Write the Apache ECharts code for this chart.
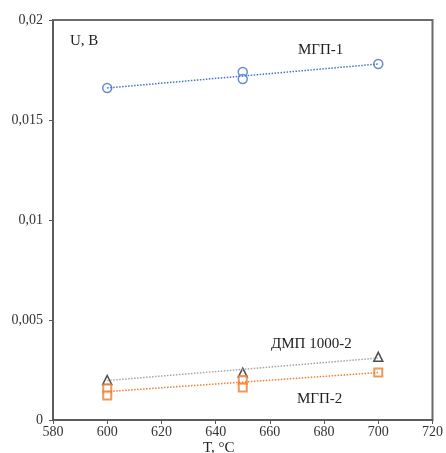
<!DOCTYPE html>
<html>
<head>
<meta charset="utf-8">
<script src="https://cdn.jsdelivr.net/npm/echarts@6/dist/echarts.min.js"></script>
<style>
  html, body { margin: 0; padding: 0; background: #fff; }
  #main { width: 446px; height: 453px; }
</style>
</head>
<body>
<div id="main"></div>
<script>
// данные
var temps = [600, 650, 650, 700];
var mgp1 = [0.0166, 0.0174, 0.01705, 0.0178];
var dmpTemps = [600, 650, 700];
var dmp = [0.0020, 0.00237, 0.00316];
var mgp2Temps = [600, 600, 650, 650, 700];
var mgp2 = [0.00158, 0.00122, 0.0020, 0.00163, 0.00237];
// линии тренда (концы)
var trendX = [600, 700];
var mgp1Trend = [0.0166, 0.0178];
var dmpTrend = [0.00197, 0.0031];
var mgp2Trend = [0.00142, 0.00237];
var yTicks = [0, 0.005, 0.01, 0.015, 0.02];

function pairs(xs, ys) {
  return xs.map(function (x, i) { return [x, ys[i]]; });
}

var serif = 'Liberation Serif';
var myChart = echarts.init(document.getElementById('main'));
var option = {
  animation: false,
  grid: { left: 53, right: 9, top: 20, bottom: 33, show: true, borderColor: '#6b6b6b', borderWidth: 2 },
  xAxis: {
    type: 'value', min: 580, max: 720, interval: 20,
    axisLine: { onZero: false, lineStyle: { color: '#595959', width: 1.5 } },
    axisTick: { show: true, length: 4, lineStyle: { color: '#595959' } },
    axisLabel: { color: '#333', fontFamily: serif, fontSize: 14, margin: 5 },
    splitLine: { show: false }
  },
  yAxis: {
    type: 'value', min: 0, max: 0.02, interval: 0.005,
    axisLine: { show: true, lineStyle: { color: '#595959', width: 1.5 } },
    axisTick: { show: true, length: 4, lineStyle: { color: '#595959' } },
    axisLabel: {
      color: '#333', fontFamily: serif, fontSize: 14, margin: 10,
      formatter: function (v) { return yTicks.indexOf(v) >= 0 ? String(v).replace('.', ',') : ''; }
    },
    splitLine: { show: false }
  },
  series: [
    { type: 'line', data: pairs(trendX, mgp1Trend), symbol: 'none', silent: true,
      lineStyle: { color: '#4472C4', width: 1.5, type: [1.5, 1.5] } },
    { type: 'line', data: pairs(trendX, dmpTrend), symbol: 'none', silent: true,
      lineStyle: { color: '#A5A5A5', width: 1.5, type: [1.5, 1.5] } },
    { type: 'line', data: pairs(trendX, mgp2Trend), symbol: 'none', silent: true,
      lineStyle: { color: '#ED7D31', width: 1.5, type: [1.5, 1.5] } },
    { type: 'scatter', data: pairs(temps, mgp1), symbol: 'circle', symbolSize: 9,
      itemStyle: { color: '#fff', borderColor: '#4472C4', borderWidth: 1.5 } },
    { type: 'scatter', data: pairs(dmpTemps, dmp), symbol: 'triangle', symbolSize: 9,
      itemStyle: { color: '#fff', borderColor: '#222', borderWidth: 1.5 } },
    { type: 'scatter', data: pairs(mgp2Temps, mgp2), symbol: 'rect', symbolSize: 8,
      itemStyle: { color: '#fff', borderColor: '#ED7D31', borderWidth: 2 } }
  ],
  graphic: [
    { type: 'text', left: 70, top: 34, style: { text: 'U, B', font: '15px "Liberation Serif"', fill: '#222' } },
    { type: 'text', left: 298, top: 43, style: { text: 'МГП-1', font: '15px "Liberation Serif"', fill: '#222' } },
    { type: 'text', left: 271, top: 337, style: { text: 'ДМП 1000-2', font: '15px "Liberation Serif"', fill: '#222' } },
    { type: 'text', left: 297, top: 392, style: { text: 'МГП-2', font: '15px "Liberation Serif"', fill: '#222' } },
    { type: 'text', left: 203, top: 441, style: { text: 'T, °C', font: '15px "Liberation Serif"', fill: '#222' } }
  ]
};
myChart.setOption(option);
</script>
</body>
</html>
